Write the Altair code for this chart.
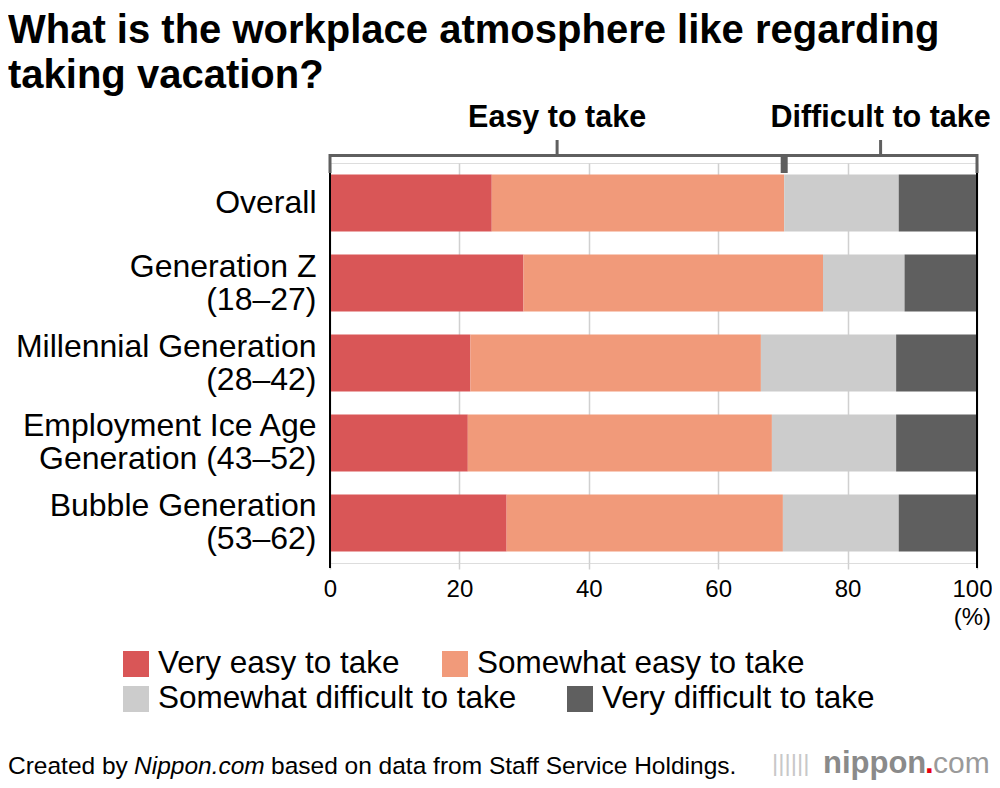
import altair as alt
import pandas as pd

# ---------------- data ----------------
categories = ["Overall", "Generation Z|(18–27)", "Millennial Generation|(28–42)",
              "Employment Ice Age|Generation (43–52)", "Bubble Generation|(53–62)"]
series = ["Very easy to take", "Somewhat easy to take",
          "Somewhat difficult to take", "Very difficult to take"]
very_easy = [25.0, 29.9, 21.7, 21.3, 27.3]
somewhat_easy = [45.2, 46.3, 44.9, 47.0, 42.7]
somewhat_difficult = [17.7, 12.6, 20.9, 19.2, 17.9]
very_difficult = [12.1, 11.2, 12.5, 12.5, 12.1]
colors = ["#d95657", "#f19a7a", "#cccccc", "#5f5f5f"]
x_ticks = [0, 20, 40, 60, 80, 100]
bracket_labels = ["Easy to take", "Difficult to take"]
title_lines = ["What is the workplace atmosphere like regarding", "taking vacation?"]

FONT = "Liberation Sans"
BRACKET = "#5f5f5f"

rows = []
for si, (name, vals) in enumerate(zip(series, [very_easy, somewhat_easy,
                                                somewhat_difficult, very_difficult])):
    for c, v in zip(categories, vals):
        rows.append({"category": c, "series": name, "value": v, "order": si})
df = pd.DataFrame(rows)

easy_total = very_easy[0] + somewhat_easy[0]
bracket_df = pd.DataFrame({"start": [0, easy_total], "end": [easy_total, 100],
                           "label": bracket_labels})
bracket_df["mid"] = (bracket_df["start"] + bracket_df["end"]) / 2
edges_df = pd.DataFrame({"x": [0, 100]})
split_df = pd.DataFrame({"x": [easy_total]})
one = pd.DataFrame({"k": [0]})

x_scale = alt.Scale(domain=[0, 100], nice=False)
y_scale = alt.Scale(domain=categories, paddingInner=0.2875, paddingOuter=0.144)

bars = alt.Chart(df).mark_bar().encode(
    x=alt.X("value:Q", stack="zero", scale=x_scale,
            axis=alt.Axis(values=x_ticks, title=None, grid=True, gridColor="#d0d0d0",
                          gridWidth=1.5, domain=False, tickColor="#d0d0d0", tickWidth=1.5,
                          tickSize=6, labelFontSize=24, labelFont=FONT, labelColor="#000",
                          labelPadding=8, labelFlush=False,
                          labelOffset={"condition": {"test": "datum.value == 100", "value": -5},
                                       "value": 0})),
    y=alt.Y("category:N", scale=y_scale, sort=categories,
            axis=alt.Axis(title=None, ticks=False, domain=False, labelFontSize=32,
                          labelFont=FONT, labelColor="#000", labelPadding=14,
                          labelLimit=500, labelLineHeight=33,
                          labelExpr="split(datum.label, '|')",
                          labelOffset={"condition": {"test": "indexof(datum.value, '|') >= 0",
                                                     "value": -16.5}, "value": 0})),
    color=alt.Color("series:N", scale=alt.Scale(domain=series, range=colors), legend=None),
    order=alt.Order("order:Q"),
)

frame = alt.Chart(edges_df).mark_rule(color="#000", strokeWidth=2).encode(
    x=alt.X("x:Q", title=None), y=alt.value(0), y2=alt.value(405))

br_h = alt.Chart(bracket_df).mark_rule(color=BRACKET, strokeWidth=3).encode(
    x=alt.X("start:Q", title=None), x2="end:Q", y=alt.value(-7.5))
br_ends = alt.Chart(edges_df).mark_rule(color=BRACKET, strokeWidth=3).encode(
    x=alt.X("x:Q", title=None), y=alt.value(-9), y2=alt.value(10))
br_split = alt.Chart(split_df).mark_rule(color=BRACKET, strokeWidth=7).encode(
    x=alt.X("x:Q", title=None), y=alt.value(-9), y2=alt.value(10))
br_mid = alt.Chart(bracket_df).mark_rule(color=BRACKET, strokeWidth=3).encode(
    x=alt.X("mid:Q", title=None), y=alt.value(-23), y2=alt.value(-7.5))
br_text = alt.Chart(bracket_df).mark_text(font=FONT, fontSize=30.5, fontWeight="bold",
                                          color="#000", baseline="middle").encode(
    x=alt.X("mid:Q", title=None), y=alt.value(-45), text="label:N")

pct = alt.Chart(one).mark_text(font=FONT, fontSize=24, color="#000", align="right",
                               baseline="middle").encode(
    x=alt.value(661), y=alt.value(455), text=alt.value("(%)"))

layers = [bars, frame, br_h, br_ends, br_split, br_mid, br_text, pct]

# title
for i, line in enumerate(title_lines):
    layers.append(alt.Chart(one).mark_text(font=FONT, fontSize=40, fontWeight="bold",
                                           color="#000", align="left", baseline="middle").encode(
        x=alt.value(-322), y=alt.value(-132 + 45 * i), text=alt.value(line)))

# legend (manual, flow layout)
legend_pos = [(-207, 501), (112, 501), (-207, 536), (237, 536)]
for (lx, ly), name, col in zip(legend_pos, series, colors):
    layers.append(alt.Chart(one).mark_rect(color=col).encode(
        x=alt.value(lx), x2=alt.value(lx + 26), y=alt.value(ly - 13), y2=alt.value(ly + 13)))
    layers.append(alt.Chart(one).mark_text(font=FONT, fontSize=31.5, color="#000",
                                           align="left", baseline="middle").encode(
        x=alt.value(lx + 35), y=alt.value(ly), text=alt.value(name)))

# footer
footer_parts = [(-322, "Created by", "normal"), (-196, "Nippon.com", "italic"),
                (-59, "based on data from Staff Service Holdings.", "normal")]
for fx, txt, style in footer_parts:
    layers.append(alt.Chart(one).mark_text(font=FONT, fontSize=24.5, color="#000",
                                           fontStyle=style, align="left",
                                           baseline="middle").encode(
        x=alt.value(fx), y=alt.value(604), text=alt.value(txt)))

# logo
logo_parts = [(442, "||||||", "#c8c8c8", "normal", 24), (493, "nippon", "#8a8a8a", "bold", 31),
              (595, ".", "#e60012", "bold", 31), (603, "com", "#9a9a9a", "normal", 30)]
for lx, txt, col, wt, fs in logo_parts:
    layers.append(alt.Chart(one).mark_text(font=FONT, fontSize=fs, color=col, fontWeight=wt,
                                           align="left", baseline="middle").encode(
        x=alt.value(lx), y=alt.value(601), text=alt.value(txt)))

chart = alt.layer(*layers).properties(
    width=647, height=400,
    autosize=alt.AutoSizeParams(type="none"),
    padding={"left": 322, "top": 155, "right": 15, "bottom": 217},
).configure_view(stroke=None).configure(background="#ffffff")

chart.save("out.html", embed_options={"renderer": "svg", "actions": False})
